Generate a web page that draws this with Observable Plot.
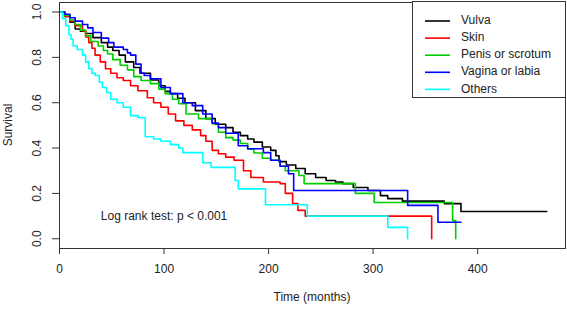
<!DOCTYPE html>
<html>
<head>
<meta charset="utf-8">
<script src="https://cdn.jsdelivr.net/npm/d3@7"></script>
<script src="https://cdn.jsdelivr.net/npm/@observablehq/plot@0.6"></script>
<style>
  html, body { margin: 0; padding: 0; background: #fff; }
  #chart { width: 567px; height: 309px; }
</style>
</head>
<body>
<div id="chart"></div>
<script>
// Kaplan–Meier survival estimates [time (months), survival]
const vulva = [[0,1],[5,0.98],[10,0.955],[15,0.925],[20,0.915],[25,0.905],[32,0.887],[40,0.865],[46,0.845],[51,0.83],[57,0.81],[63,0.78],[71,0.755],[77,0.73],[87,0.7],[95,0.675],[101,0.65],[106,0.64],[113,0.62],[120,0.6],[130,0.565],[140,0.53],[149,0.505],[159,0.49],[166,0.47],[173,0.455],[180,0.44],[186,0.426],[194,0.405],[202,0.39],[207,0.366],[210,0.34],[217,0.325],[226,0.31],[235,0.287],[245,0.27],[255,0.257],[264,0.25],[271,0.243],[281,0.226],[295,0.213],[307,0.19],[314,0.177],[328,0.166],[368,0.155],[384,0.12],[466,0.12]];
const skin = [[0,1],[5,0.98],[10,0.96],[15,0.94],[22,0.917],[25,0.89],[28,0.865],[31,0.84],[34,0.81],[39,0.78],[44,0.75],[49,0.73],[55,0.71],[61,0.698],[68,0.675],[75,0.653],[84,0.622],[90,0.6],[97,0.58],[104,0.55],[111,0.52],[119,0.5],[127,0.48],[135,0.455],[140,0.43],[146,0.39],[152,0.375],[159,0.36],[167,0.346],[176,0.3],[183,0.27],[195,0.25],[211,0.243],[216,0.2],[223,0.155],[228,0.125],[235,0.1],[356,0]];
const penis = [[0,1],[5,0.985],[10,0.965],[15,0.945],[20,0.92],[25,0.895],[30,0.87],[37,0.85],[42,0.83],[46,0.815],[51,0.79],[58,0.765],[65,0.745],[71,0.715],[78,0.698],[87,0.684],[95,0.66],[101,0.64],[108,0.615],[114,0.596],[121,0.55],[133,0.53],[146,0.507],[152,0.47],[159,0.446],[166,0.435],[173,0.42],[180,0.395],[186,0.378],[194,0.355],[202,0.346],[211,0.32],[216,0.3],[229,0.279],[234,0.243],[283,0.2],[301,0.16],[376,0.08],[379,0]];
const vagina = [[0,1],[5,0.99],[10,0.975],[15,0.96],[22,0.945],[27,0.93],[32,0.91],[40,0.885],[47,0.865],[52,0.845],[61,0.835],[65,0.82],[68,0.81],[73,0.77],[78,0.73],[81,0.72],[87,0.706],[97,0.667],[106,0.64],[118,0.6],[127,0.587],[137,0.55],[146,0.51],[152,0.49],[159,0.465],[171,0.41],[180,0.397],[195,0.38],[202,0.346],[211,0.32],[219,0.287],[224,0.213],[333,0.147],[362,0.073],[384,0.073]];
const others = [[0,1],[3,0.97],[6,0.94],[9,0.9],[11,0.88],[13,0.85],[17,0.835],[22,0.81],[25,0.78],[28,0.75],[31,0.73],[34,0.72],[38,0.69],[41,0.667],[45,0.645],[49,0.615],[55,0.6],[61,0.58],[68,0.543],[75,0.535],[82,0.45],[90,0.44],[97,0.43],[106,0.415],[114,0.4],[118,0.38],[137,0.335],[145,0.315],[168,0.257],[171,0.22],[197,0.15],[237,0.1],[314,0.05],[333,0]];

const seriesNames = ["Vulva", "Skin", "Penis or scrotum", "Vagina or labia", "Others"];
const seriesData = [vulva, skin, penis, vagina, others];
const seriesColors = ["#000000", "#ff0000", "#00cd00", "#0000ff", "#00ffff"];

const xTicks = [0, 100, 200, 300, 400];
const yTicks = [0, 0.2, 0.4, 0.6, 0.8, 1.0];
const annotation = [{t: 100, s: 0.1, label: "Log rank test: p < 0.001"}];

const W = 567, H = 309;
const mL = 59, mR = 2, mT = 2, mB = 61;
const font = "'Liberation Sans', Arial, sans-serif";
const ink = "#222";

const lines = seriesData.map((data, i) =>
  Plot.line(data, {x: d => d[0], y: d => d[1], curve: "step-after", stroke: seriesColors[i], strokeWidth: 1.6})
);

const chart = Plot.plot({
  width: W, height: H,
  marginLeft: mL, marginRight: mR, marginTop: mT, marginBottom: mB,
  style: {fontFamily: font, fontSize: "12px", color: ink, background: "#fff"},
  x: {domain: [0, 484]},
  y: {domain: [-0.043, 1.042]},
  marks: [
    ...lines,
    Plot.frame({stroke: "#333", strokeWidth: 1}),
    Plot.axisX({ticks: xTicks, tickSize: 6, tickPadding: 10, tickFormat: d3.format("d"), label: null, fontSize: 12, stroke: "#333"}),
    Plot.axisY({ticks: yTicks, tickSize: 7, tickFormat: () => "", label: null, stroke: "#333"}),
    Plot.text(yTicks, {y: d => d, text: d => d3.format(".1f")(d), frameAnchor: "left", textAnchor: "middle", lineAnchor: "middle", dx: -22, rotate: -90, fontSize: 12, fill: ink}),
    Plot.text(annotation, {x: "t", y: "s", text: "label", fontSize: 12, fill: ink})
  ]
});

const svg = d3.select(chart);
// axis titles
svg.append("text").attr("x", (mL + W - mR) / 2).attr("y", 298).attr("text-anchor", "middle")
  .attr("dominant-baseline", "middle").attr("font-size", 12).attr("fill", ink).attr("font-family", font)
  .text("Time (months)");
svg.append("text").attr("transform", `translate(9,${(mT + H - mB) / 2}) rotate(-90)`).attr("text-anchor", "middle")
  .attr("dominant-baseline", "middle").attr("font-size", 12).attr("fill", ink).attr("font-family", font)
  .text("Survival");
// legend
const lg = svg.append("g").attr("text-anchor", "start");
lg.append("rect").attr("x", 412.5).attr("y", 1.5).attr("width", W - mR - 412.5 + 0.5).attr("height", 96)
  .attr("fill", "#fff").attr("stroke", "#333");
seriesNames.forEach((name, i) => {
  const y = 21 + i * 17.1;
  lg.append("line").attr("x1", 425).attr("x2", 450).attr("y1", y).attr("y2", y)
    .attr("stroke", seriesColors[i]).attr("stroke-width", 1.6);
  lg.append("text").attr("x", 461).attr("y", y).attr("dominant-baseline", "middle").attr("text-anchor", "start")
    .attr("font-size", 12).attr("fill", ink).attr("font-family", font).text(name);
});

document.getElementById("chart").appendChild(chart);
</script>
</body>
</html>
